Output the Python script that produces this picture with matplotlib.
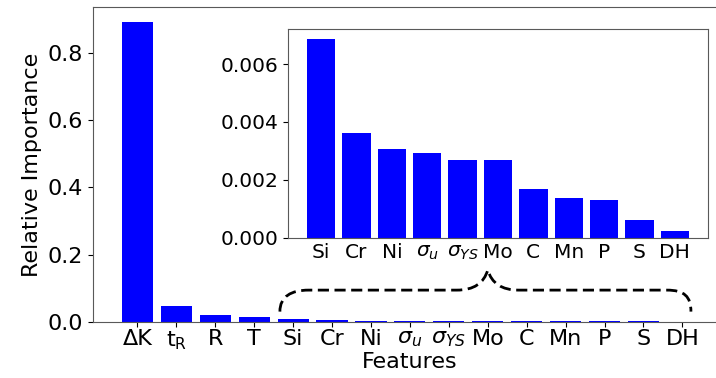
import matplotlib.pyplot as plt
from matplotlib.path import Path
from matplotlib.patches import PathPatch

plt.rcParams['font.size'] = 16
plt.rcParams['mathtext.fontset'] = 'dejavusans'

features = ['ΔK', r'$\mathregular{t_R}$', 'R', 'T', 'Si', 'Cr', 'Ni',
            r'$\sigma_u$', r'$\sigma_{YS}$', 'Mo', 'C', 'Mn', 'P', 'S', 'DH']
importance = [0.892, 0.047, 0.020, 0.015, 0.00685, 0.00363, 0.00305,
              0.00294, 0.00269, 0.00267, 0.00169, 0.00136, 0.00129,
              0.00061, 0.00023]

# the small ones get their own zoomed panel
n_major = 4
minor_features = features[n_major:]
minor_importance = importance[n_major:]

BAR_COLOR = 'blue'
SPINE_COLOR = '0.35'

fig = plt.figure(figsize=(7.16, 3.78), dpi=100)

ax = fig.add_axes((0.130, 0.149, 0.885, 0.832))
ax.bar(range(len(features)), importance, color=BAR_COLOR, width=0.8)
ax.set_xticks(range(len(features)))
ax.set_xticklabels(features)
ax.set_yticks([0.0, 0.2, 0.4, 0.6, 0.8])
ax.set_ylabel('Relative Importance')
ax.set_xlabel('Features', labelpad=0)
ax.tick_params(axis='x', pad=2)
for s in ax.spines.values():
    s.set_color(SPINE_COLOR)

# dashed curly brace over the minor features, pointing up to the inset
xl, xr, xm = 3.66, 14.22, 9.0
yb, yh, yt = 0.030, 0.094, 0.154
verts = [
    (xl, yb), (xl, 0.075), (3.95, yh), (4.4, yh),
    (8.2, yh),
    (8.65, yh), (8.9, 0.115), (xm, yt),
    (9.1, 0.115), (9.35, yh), (9.8, yh),
    (13.6, yh),
    (14.05, yh), (xr, 0.075), (xr, yb),
]
codes = [Path.MOVETO, Path.CURVE4, Path.CURVE4, Path.CURVE4,
         Path.LINETO,
         Path.CURVE4, Path.CURVE4, Path.CURVE4,
         Path.CURVE4, Path.CURVE4, Path.CURVE4,
         Path.LINETO,
         Path.CURVE4, Path.CURVE4, Path.CURVE4]
brace = PathPatch(Path(verts, codes), facecolor='none', edgecolor='black',
                  linewidth=2, linestyle=(0, (4, 2)))
ax.add_patch(brace)

ins = fig.add_axes((0.402, 0.371, 0.587, 0.551))
ins.bar(range(len(minor_features)), minor_importance, color=BAR_COLOR, width=0.8)
ins.set_xticks(range(len(minor_features)))
ins.set_xticklabels(minor_features)
ins.set_yticks([0.0, 0.002, 0.004, 0.006])
ins.tick_params(labelsize=14.5)
ins.tick_params(axis='x', length=0, pad=4)
for s in ins.spines.values():
    s.set_color(SPINE_COLOR)

fig.savefig('out.png', dpi=100)
